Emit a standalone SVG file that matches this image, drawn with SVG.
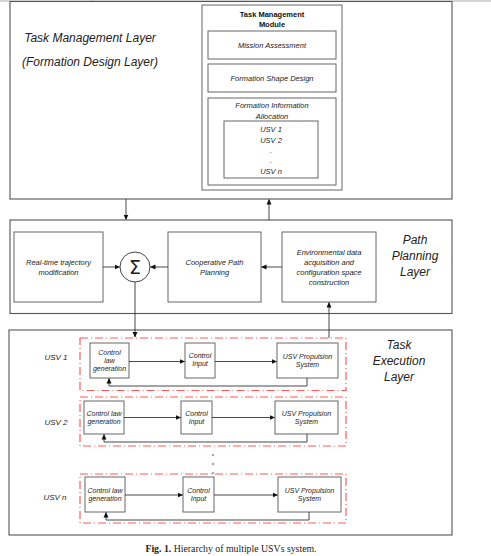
<svg xmlns="http://www.w3.org/2000/svg" width="491" height="556" viewBox="0 0 491 556">
<defs>
<marker id="ah" markerWidth="6" markerHeight="6" refX="5" refY="3" orient="auto" markerUnits="userSpaceOnUse">
<path d="M0,0.5 L5.5,3 L0,5.5 Z" fill="#111"/>
</marker>
<style>
.layer{fill:none;stroke:#555;stroke-width:1.1}
.box{fill:#fff;stroke:#666;stroke-width:1}
.dash{fill:none;stroke:#ff5a5a;stroke-width:1.2;stroke-dasharray:8 3 1 3}
.ln{fill:none;stroke:#333;stroke-width:0.9}
.t{font-family:"Liberation Sans",Arial,sans-serif;font-style:italic;fill:#222;text-anchor:middle}
.big{font-size:12px}
.sm{font-size:7.5px}
.xs{font-size:7px}
.lab{font-size:8px}
.b{font-family:"Liberation Sans",Arial,sans-serif;font-weight:bold;font-size:7.5px;fill:#111;text-anchor:middle}
.cap{font-family:"Liberation Serif","Times New Roman",serif;font-size:9.8px;fill:#222;text-anchor:middle}
</style>
</defs>
<line x1="0" y1="1" x2="491" y2="1" stroke="#aaa" stroke-width="1"/>
<line x1="93" y1="0" x2="93" y2="2" stroke="#aaa" stroke-width="1"/>

<g id="task-management-layer">
<rect class="layer" x="10" y="1.5" width="442" height="197.5"/>
<text class="t big" x="90" y="42">Task Management Layer</text>
<text class="t big" x="90" y="66">(Formation Design Layer)</text>
</g>

<g id="task-management-module">
<rect class="box" x="202" y="5" width="140" height="185"/>
<text class="b" x="272" y="17">Task Management</text>
<text class="b" x="272" y="27">Module</text>
</g>
<g id="mission-assessment">
<rect class="box" x="208" y="31" width="128" height="28"/>
<text class="t sm" x="272" y="48">Mission Assessment</text>
</g>
<g id="formation-shape-design">
<rect class="box" x="208" y="64" width="128" height="28"/>
<text class="t sm" x="272" y="81">Formation Shape Design</text>
</g>
<g id="formation-information-allocation">
<rect class="box" x="208" y="98" width="128" height="87"/>
<text class="t sm" x="272" y="108">Formation Information</text>
<text class="t sm" x="272" y="119">Allocation</text>
</g>
<g id="usv-list">
<rect class="box" x="224" y="121" width="94" height="57"/>
<text class="t sm" x="271" y="132">USV 1</text>
<text class="t sm" x="271" y="143">USV 2</text>
<text class="t sm" x="271" y="153">.</text>
<text class="t sm" x="271" y="163">.</text>
<text class="t sm" x="271" y="174">USV n</text>
</g>

<g id="path-planning-layer">
<rect class="layer" x="10" y="220" width="442" height="93.5"/>
<text class="t big" x="415" y="244">Path</text>
<text class="t big" x="415" y="260">Planning</text>
<text class="t big" x="415" y="276">Layer</text>
</g>
<g id="realtime-trajectory">
<rect class="box" x="14" y="232" width="89" height="70"/>
<text class="t sm" x="58.5" y="265">Real-time trajectory</text>
<text class="t sm" x="58.5" y="275">modification</text>
</g>
<g id="sigma">
<circle cx="135" cy="267" r="15" fill="#fff" stroke="#444" stroke-width="1"/>
<text x="135" y="274" font-family="DejaVu Sans,sans-serif" font-size="19" fill="#222" text-anchor="middle">Σ</text>
</g>
<g id="cooperative-path-planning">
<rect class="box" x="168" y="232" width="93" height="70"/>
<text class="t sm" x="214.5" y="265">Cooperative Path</text>
<text class="t sm" x="214.5" y="275">Planning</text>
</g>
<g id="environmental-data">
<rect class="box" x="282" y="232" width="94" height="70"/>
<text class="t sm" x="329" y="255">Environmental data</text>
<text class="t sm" x="329" y="265">acquisition and</text>
<text class="t sm" x="329" y="275">configuration space</text>
<text class="t sm" x="329" y="285">construction</text>
</g>

<g id="task-execution-layer">
<rect class="layer" x="9" y="330" width="443" height="205"/>
<text class="t big" x="399" y="349">Task</text>
<text class="t big" x="399" y="365">Execution</text>
<text class="t big" x="399" y="381">Layer</text>
</g>

<g id="usv1">
<rect class="dash" x="80" y="338" width="266" height="52.5"/>
<text class="t lab" x="56" y="360">USV 1</text>
</g>
<g id="usv1-control-law">
<rect class="box" x="90" y="343" width="39" height="35"/>
<text class="t xs" x="109.5" y="355">Control</text>
<text class="t xs" x="109.5" y="363">law</text>
<text class="t xs" x="109.5" y="371">generation</text>
</g>
<g id="usv1-control-input">
<rect class="box" x="185" y="343" width="30" height="35"/>
<text class="t xs" x="200" y="358">Control</text>
<text class="t xs" x="200" y="366">Input</text>
</g>
<g id="usv1-propulsion">
<rect class="box" x="277" y="343" width="61" height="35"/>
<text class="t xs" x="307.5" y="359">USV Propulsion</text>
<text class="t xs" x="307.5" y="367">System</text>
</g>

<g id="usv2">
<rect class="dash" x="80" y="397" width="266" height="49"/>
<text class="t lab" x="56" y="425">USV 2</text>
</g>
<g id="usv2-control-law">
<rect class="box" x="84" y="401" width="40" height="33"/>
<text class="t xs" x="104" y="416">Control law</text>
<text class="t xs" x="104" y="424">generation</text>
</g>
<g id="usv2-control-input">
<rect class="box" x="181" y="401" width="31" height="33"/>
<text class="t xs" x="196.5" y="416">Control</text>
<text class="t xs" x="196.5" y="424">Input</text>
</g>
<g id="usv2-propulsion">
<rect class="box" x="275" y="401" width="63" height="33"/>
<text class="t xs" x="306.5" y="416">USV Propulsion</text>
<text class="t xs" x="306.5" y="424">System</text>
</g>

<g id="ellipsis">
<circle cx="213" cy="455" r="0.8" fill="#333"/>
<circle cx="213" cy="464" r="0.8" fill="#333"/>
<circle cx="213" cy="473" r="0.8" fill="#333"/>
</g>

<g id="usvn">
<rect class="dash" x="80" y="474" width="266" height="49"/>
<text class="t lab" x="55" y="500">USV n</text>
</g>
<g id="usvn-control-law">
<rect class="box" x="85" y="477" width="40" height="35"/>
<text class="t xs" x="105" y="493">Control law</text>
<text class="t xs" x="105" y="501">generation</text>
</g>
<g id="usvn-control-input">
<rect class="box" x="183" y="477" width="31" height="35"/>
<text class="t xs" x="198.5" y="493">Control</text>
<text class="t xs" x="198.5" y="501">Input</text>
</g>
<g id="usvn-propulsion">
<rect class="box" x="278" y="477" width="63" height="35"/>
<text class="t xs" x="309.5" y="493">USV Propulsion</text>
<text class="t xs" x="309.5" y="501">System</text>
</g>

<g id="connectors">
<line class="ln" x1="126" y1="199" x2="126" y2="219.5" marker-end="url(#ah)"/>
<line class="ln" x1="269" y1="220" x2="269" y2="199.5" marker-end="url(#ah)"/>
<line class="ln" x1="103" y1="267" x2="119.5" y2="267" marker-end="url(#ah)"/>
<line class="ln" x1="168" y1="267" x2="150.5" y2="267" marker-end="url(#ah)"/>
<line class="ln" x1="282" y1="267" x2="261.5" y2="267" marker-end="url(#ah)"/>
<line class="ln" x1="135" y1="282" x2="135" y2="337" marker-end="url(#ah)"/>
<line class="ln" x1="329" y1="338" x2="329" y2="302.5" marker-end="url(#ah)"/>
<line class="ln" x1="129" y1="361.5" x2="184.5" y2="361.5" marker-end="url(#ah)"/>
<line class="ln" x1="215" y1="361.5" x2="276.5" y2="361.5" marker-end="url(#ah)"/>
<polyline class="ln" points="307,378 307,386 109,386 109,378.5" marker-end="url(#ah)"/>
<line class="ln" x1="124" y1="417.5" x2="180.5" y2="417.5" marker-end="url(#ah)"/>
<line class="ln" x1="212" y1="417.5" x2="274.5" y2="417.5" marker-end="url(#ah)"/>
<polyline class="ln" points="307,434 307,442 104,442 104,434.5" marker-end="url(#ah)"/>
<line class="ln" x1="125" y1="495" x2="182.5" y2="495" marker-end="url(#ah)"/>
<line class="ln" x1="214" y1="495" x2="277.5" y2="495" marker-end="url(#ah)"/>
<polyline class="ln" points="309,512 309,520 106,520 106,512.5" marker-end="url(#ah)"/>
</g>

<text class="cap" x="231" y="552"><tspan font-weight="bold">Fig. 1.</tspan> Hierarchy of multiple USVs system.</text>
</svg>
